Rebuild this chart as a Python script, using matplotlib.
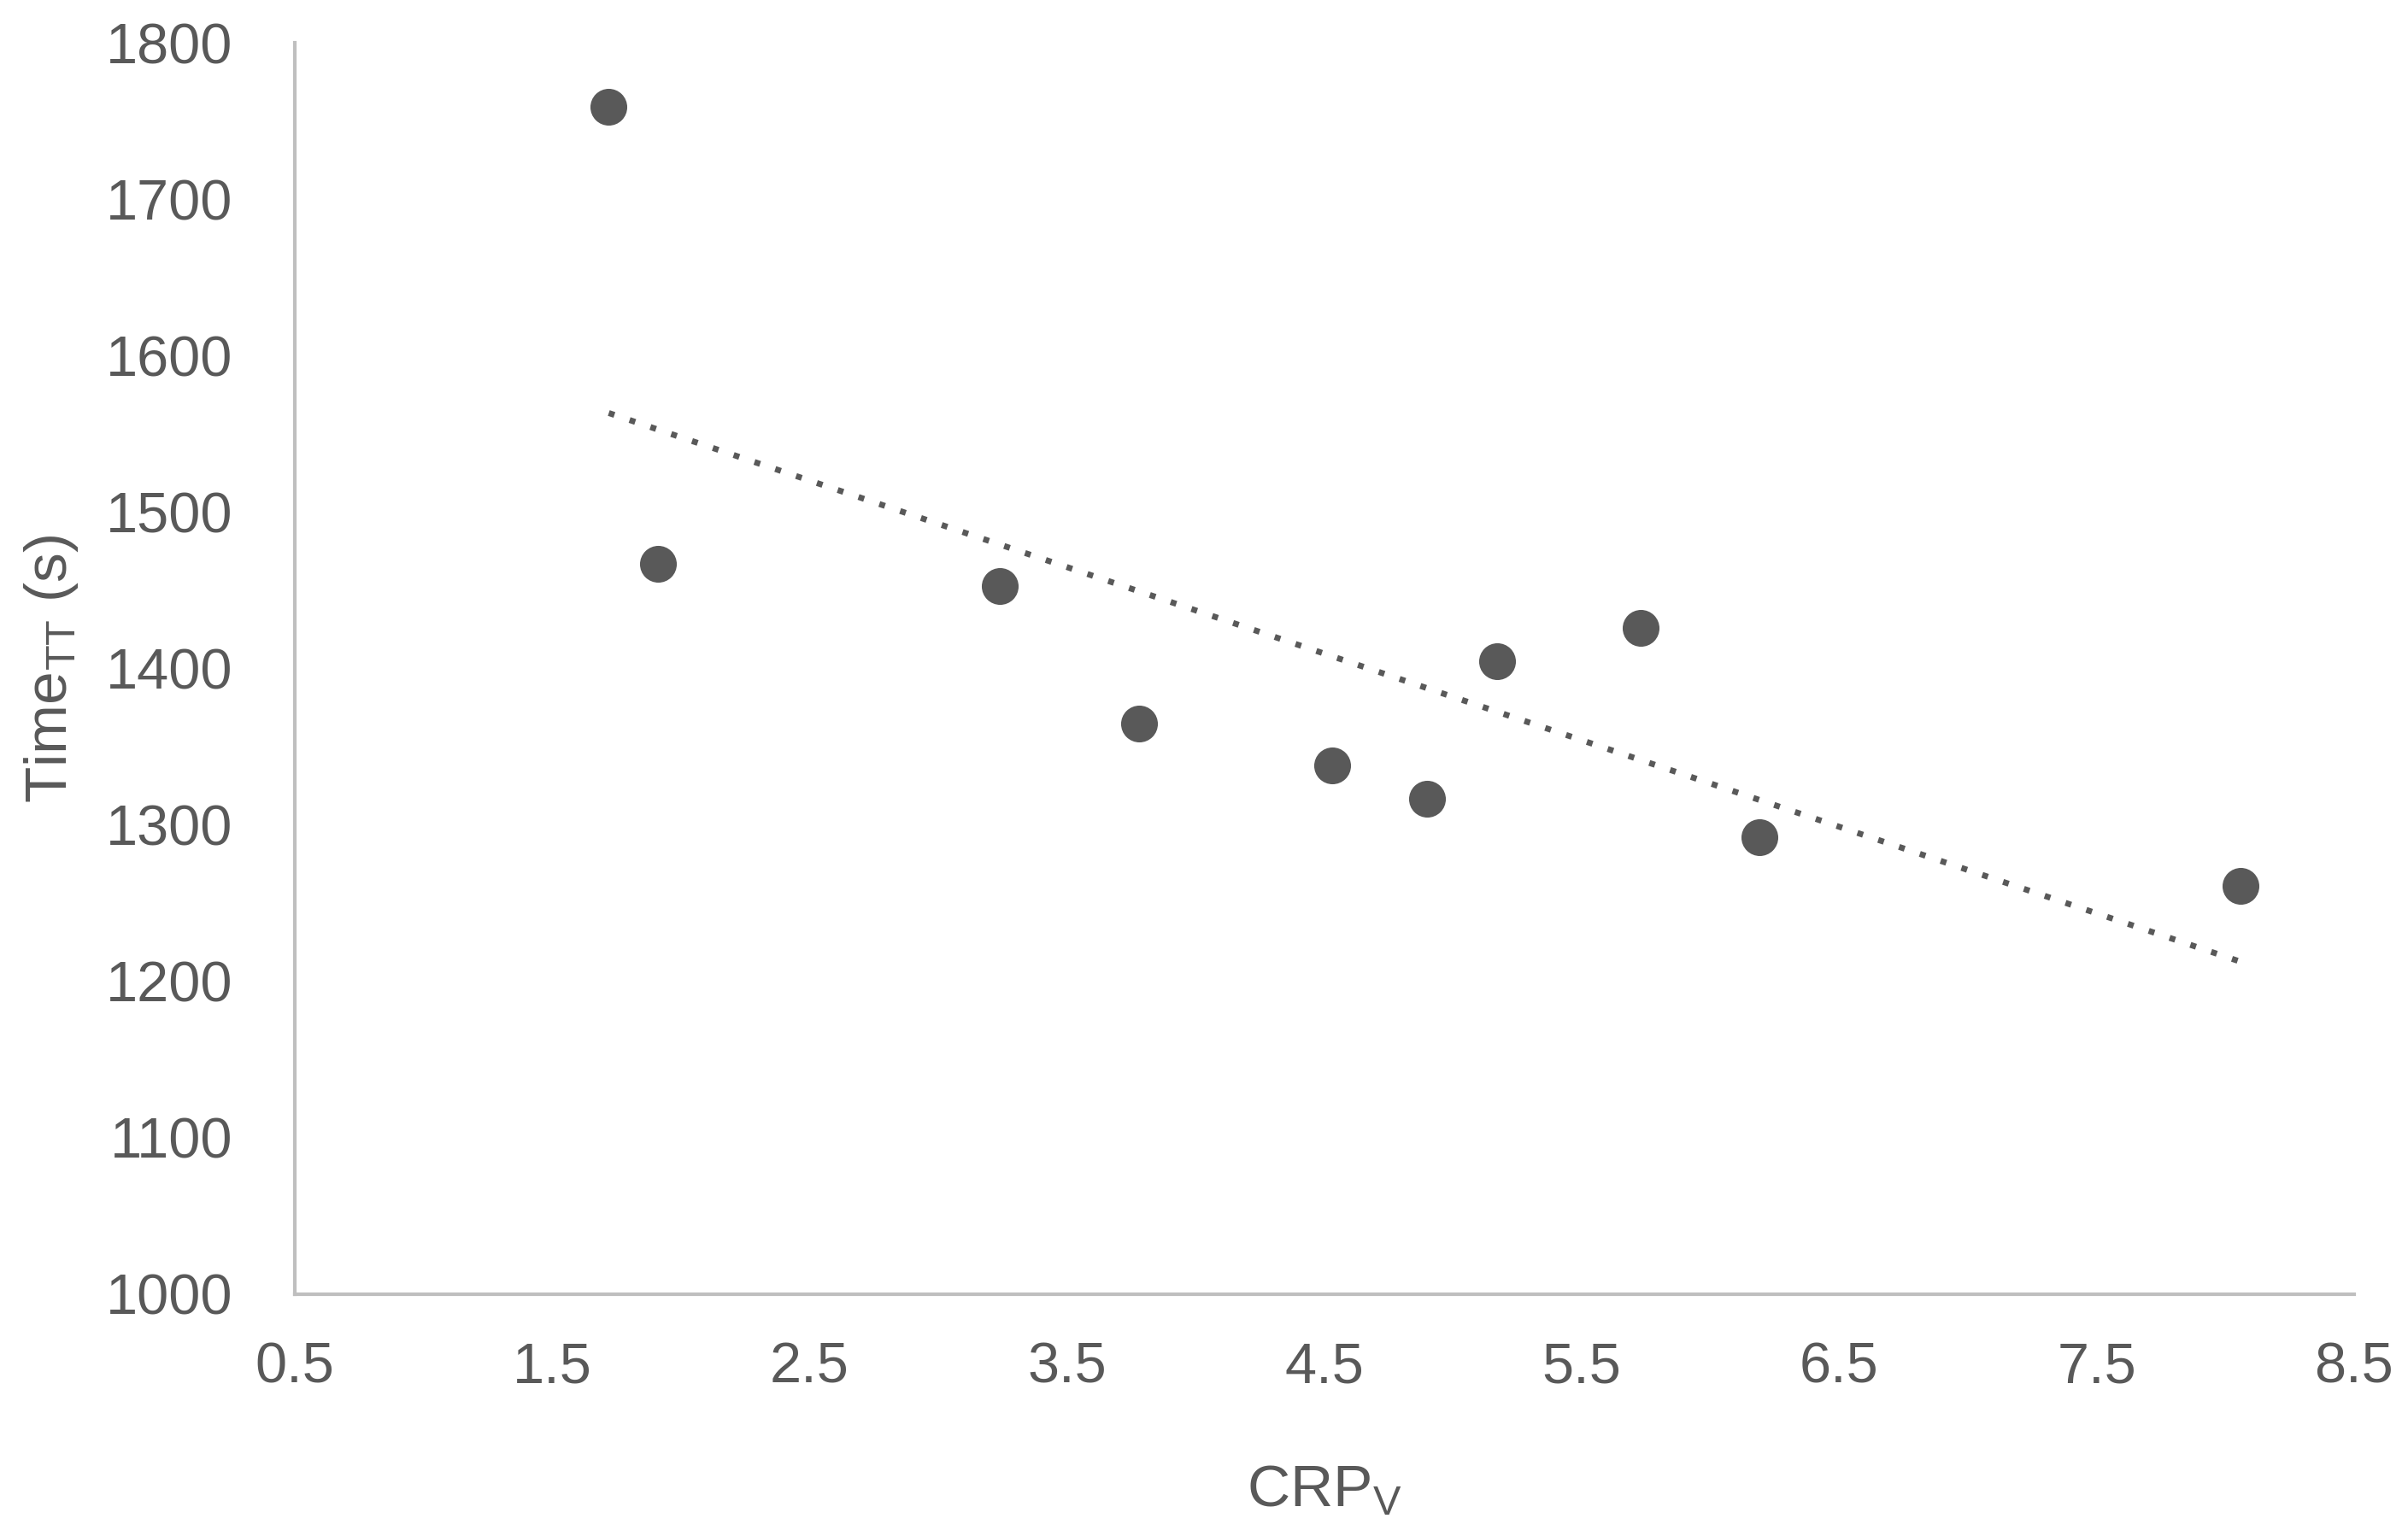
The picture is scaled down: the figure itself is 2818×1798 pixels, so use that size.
import numpy as np
import matplotlib.pyplot as plt

# values
crp_v = [1.72, 1.91, 3.24, 3.78, 4.53, 4.90, 5.17, 5.73, 6.19, 8.06]
time_tt = [1759, 1467, 1453, 1365, 1338, 1317, 1405, 1426, 1292, 1261]

x_ticks = [0.5, 1.5, 2.5, 3.5, 4.5, 5.5, 6.5, 7.5, 8.5]
y_ticks = [1000, 1100, 1200, 1300, 1400, 1500, 1600, 1700, 1800]

plt.rcParams['font.family'] = ['Liberation Sans', 'DejaVu Sans']
plt.rcParams['mathtext.fontset'] = 'custom'
plt.rcParams['mathtext.rm'] = 'Liberation Sans'
plt.rcParams['mathtext.it'] = 'Liberation Sans'

text_color = '#595959'
axis_color = '#bfbfbf'

fig = plt.figure(figsize=(28.18, 17.98), dpi=100)
ax = fig.add_axes([0.1224, 0.1574, 0.8552, 0.8146])

ax.plot(crp_v, time_tt, 'o', color=text_color, markersize=31, markeredgewidth=0, zorder=3)

# linear trendline over the data range
slope, intercept = np.polyfit(crp_v, time_tt, 1)
xs = np.array([min(crp_v), max(crp_v)])
ax.plot(xs, slope * xs + intercept, color=text_color, linewidth=5,
        linestyle=(0, (1, 2.7)), dash_capstyle='butt', zorder=2)

ax.set_xlim(0.5, 8.5)
ax.set_ylim(1000, 1800)
ax.set_xticks(x_ticks)
ax.set_xticklabels([str(t) for t in x_ticks])
ax.set_yticks(y_ticks)

for side in ['top', 'right']:
    ax.spines[side].set_visible(False)
for side in ['left', 'bottom']:
    ax.spines[side].set_color(axis_color)
    ax.spines[side].set_linewidth(3)

ax.tick_params(axis='both', length=0, labelsize=48, colors=text_color)
ax.tick_params(axis='x', pad=40)
ax.tick_params(axis='y', pad=52)

ax.set_xlabel(r'CRP$_{\mathrm{V}}$', fontsize=50, color=text_color)
ax.set_ylabel(r'Time$_{\mathrm{TT}}$ (s)', fontsize=50, color=text_color)
ax.xaxis.set_label_coords(0.5, -0.135)
ax.yaxis.set_label_coords(-0.104, 0.5)

fig.savefig('out.png', dpi=100, facecolor='white')
